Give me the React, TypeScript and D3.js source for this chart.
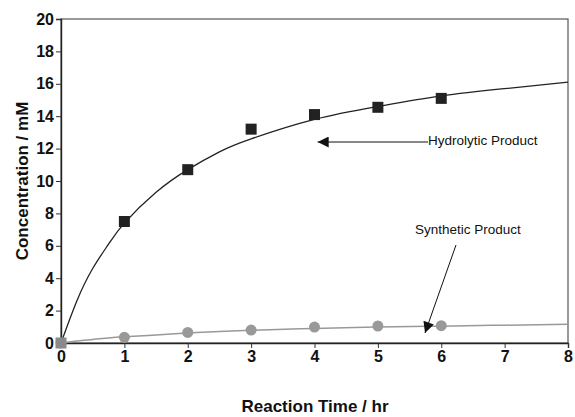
import * as d3 from "d3";
import { useEffect, useRef } from "react";

// measured points
const hourTicks = [0, 1, 2, 3, 4, 5, 6, 7, 8];
const concTicks = [0, 2, 4, 6, 8, 10, 12, 14, 16, 18, 20];
const sampleHours = [0, 1, 2, 3, 4, 5, 6];
const hydrolytic = [0, 7.5, 10.7, 13.2, 14.1, 14.55, 15.1];
const synthetic = [0, 0.35, 0.65, 0.8, 0.98, 1.05, 1.07];

// fitted curves
const curveHours = [0, 0.25, 0.5, 0.75, 1, 1.5, 2, 2.5, 3, 4, 5, 6, 7, 8];
const hydrolyticFit = [0, 2.6, 4.6, 6.1, 7.4, 9.3, 10.7, 11.8, 12.6, 13.8, 14.6, 15.25, 15.7, 16.1];
const syntheticFit = [0, 0.12, 0.22, 0.31, 0.38, 0.5, 0.62, 0.71, 0.78, 0.9, 0.98, 1.04, 1.1, 1.15];

export default function App() {
  const ref = useRef<SVGSVGElement>(null);

  useEffect(() => {
    const svg = d3.select(ref.current);
    svg.selectAll("*").remove();

    const x = d3.scaleLinear().domain([0, 8]).range([61, 568]);
    const y = d3.scaleLinear().domain([0, 20]).range([343, 19]);

    const defs = svg.append("defs");
    defs
      .append("marker")
      .attr("id", "head")
      .attr("viewBox", "0 0 10 10")
      .attr("refX", 10)
      .attr("refY", 5)
      .attr("markerWidth", 16)
      .attr("markerHeight", 11)
      .attr("markerUnits", "userSpaceOnUse")
      .attr("orient", "auto")
      .append("path")
      .attr("d", "M0,0L10,5L0,10Z")
      .attr("fill", "#111");

    // frame
    svg
      .append("rect")
      .attr("x", x(0))
      .attr("y", y(20))
      .attr("width", x(8) - x(0))
      .attr("height", y(0) - y(20))
      .attr("fill", "none")
      .attr("stroke", "#555")
      .attr("stroke-width", 1.2);

    const font = "'Liberation Sans', Arial, sans-serif";

    const xAxis = svg
      .append("g")
      .attr("transform", `translate(0,${y(0)})`)
      .call(d3.axisBottom(x).tickValues(hourTicks).tickSize(5).tickPadding(3).tickFormat(d3.format("d")));
    const yAxis = svg
      .append("g")
      .attr("transform", `translate(${x(0)},0)`)
      .call(d3.axisLeft(y).tickValues(concTicks).tickSize(5).tickPadding(2).tickFormat(d3.format("d")));

    [xAxis, yAxis].forEach((g) => {
      g.select(".domain").attr("stroke", "#222").attr("stroke-width", 1.4);
      g.selectAll(".tick line").attr("stroke", "#333");
      g.selectAll("text")
        .attr("fill", "#111")
        .style("font-family", font)
        .style("font-size", "16px")
        .style("font-weight", "bold");
    });

    const line = d3
      .line<number>()
      .x((d, i) => x(curveHours[i]))
      .y((d) => y(d))
      .curve(d3.curveNatural);

    svg
      .append("path")
      .attr("d", line(syntheticFit))
      .attr("fill", "none")
      .attr("stroke", "#999")
      .attr("stroke-width", 1.5);

    svg
      .append("path")
      .attr("d", line(hydrolyticFit))
      .attr("fill", "none")
      .attr("stroke", "#222")
      .attr("stroke-width", 1.3);

    svg
      .append("g")
      .selectAll("circle")
      .data(synthetic)
      .join("circle")
      .attr("cx", (d, i) => x(sampleHours[i]))
      .attr("cy", (d) => y(d))
      .attr("r", 5.5)
      .attr("fill", "#999");

    svg
      .append("g")
      .selectAll("rect")
      .data(hydrolytic)
      .join("rect")
      .attr("x", (d, i) => x(sampleHours[i]) - 5.5)
      .attr("y", (d) => y(d) - 5.5)
      .attr("width", 11)
      .attr("height", 11)
      .attr("fill", (d, i) => (i === 0 ? "#8a8a8a" : "#222"));

    // annotations
    const ann = svg.append("g").style("font-family", font).style("font-size", "13.5px").attr("fill", "#111");
    ann.append("text").attr("x", 428).attr("y", 145).text("Hydrolytic Product");
    svg
      .append("line")
      .attr("x1", 428)
      .attr("y1", 142)
      .attr("x2", x(4.05))
      .attr("y2", 142)
      .attr("stroke", "#111")
      .attr("stroke-width", 1)
      .attr("marker-end", "url(#head)");

    ann.append("text").attr("x", 415).attr("y", 234).text("Synthetic Product");
    svg
      .append("line")
      .attr("x1", 456)
      .attr("y1", 245)
      .attr("x2", 425)
      .attr("y2", 333)
      .attr("stroke", "#111")
      .attr("stroke-width", 1)
      .attr("marker-end", "url(#head)");

    svg
      .append("text")
      .attr("x", 315)
      .attr("y", 412)
      .attr("text-anchor", "middle")
      .style("font-family", font)
      .style("font-size", "17px")
      .style("font-weight", "bold")
      .attr("fill", "#111")
      .text("Reaction Time / hr");

    svg
      .append("text")
      .attr("transform", "translate(28,181) rotate(-90)")
      .attr("text-anchor", "middle")
      .style("font-family", font)
      .style("font-size", "17px")
      .style("font-weight", "bold")
      .attr("fill", "#111")
      .text("Concentration / mM");
  }, []);

  return (
    <svg
      ref={ref}
      width={575}
      height={417}
      style={{ position: "absolute", left: 0, top: 0, background: "#fff" }}
    />
  );
}
